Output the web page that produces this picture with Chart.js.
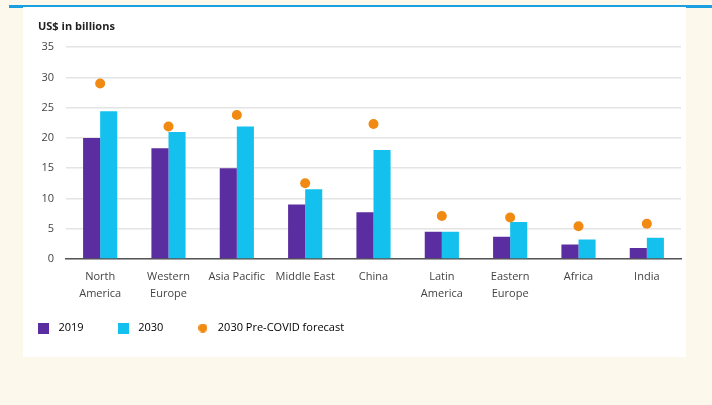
<!DOCTYPE html>
<html>
<head>
<meta charset="utf-8">
<script src="https://cdn.jsdelivr.net/npm/chart.js@4"></script>
<style>
    html, body { margin: 0; padding: 0; }
    body { width: 712px; height: 405px; background: #fdf8ec; position: relative; overflow: hidden; }
    .topline { position: absolute; left: 9px; right: 0; top: 5px; height: 3px; background: #1a9fe0; }
    .panel { position: absolute; left: 23px; top: 7px; width: 663px; height: 350px; background: #ffffff; }
    canvas { display: block; }
</style>
</head>
<body>
<div class="topline"></div>
<div class="panel"><canvas id="marketChart" width="663" height="360"></canvas></div>
<script>
const regions = [
    ['North', 'America'], ['Western', 'Europe'], 'Asia Pacific', 'Middle East', 'China',
    ['Latin', 'America'], ['Eastern', 'Europe'], 'Africa', 'India'
];
const values2019 = [20, 18.3, 15, 9, 7.7, 4.5, 3.65, 2.4, 1.8];
const values2030 = [24.4, 21, 21.9, 11.5, 18, 4.5, 6.1, 3.2, 3.5];
const preCovid2030 = [29, 21.9, 23.8, 12.5, 22.3, 7.1, 6.85, 5.4, 5.8];
const yTicks = [0, 5, 10, 15, 20, 25, 30, 35];

const purple = '#5a2ea0';
const cyan = '#14c1ee';
const orange = '#f08a12';

// small canvas used as the legend marker
function swatch(color, round) {
    const c = document.createElement('canvas');
    const size = round ? 9 : 11;
    c.width = size;
    c.height = size;
    const g = c.getContext('2d');
    g.fillStyle = color;
    if (round) {
        g.beginPath();
        g.arc(size / 2, size / 2, size / 2, 0, Math.PI * 2);
        g.fill();
    } else {
        g.fillRect(0, 0, size, size);
    }
    return c;
}

// line the legend row up with the title and pull it closer to the axis labels
const legendOffset = {
    id: 'legendOffset',
    afterLayout(chart) {
        chart.legend.left -= chart.options.plugins.legend.labels.padding + 4;
        chart.legend.top -= 18.5;
    }
};

document.addEventListener('DOMContentLoaded', function () {
    const ctx = document.getElementById('marketChart').getContext('2d');
    Chart.defaults.font.family = '"Open Sans", "Noto Sans", sans-serif';
    Chart.defaults.color = '#444';

    const data = {
        labels: regions,
        datasets: [{
            type: 'bar',
            label: '2019',
            data: values2019,
            backgroundColor: purple,
            categoryPercentage: 0.5,
            barPercentage: 1.0,
            order: 2
        }, {
            type: 'bar',
            label: '2030',
            data: values2030,
            backgroundColor: cyan,
            categoryPercentage: 0.5,
            barPercentage: 1.0,
            order: 2
        }, {
            type: 'line',
            label: '2030 Pre-COVID forecast',
            data: preCovid2030,
            showLine: false,
            pointRadius: 5,
            pointBackgroundColor: orange,
            pointBorderWidth: 0,
            borderColor: orange,
            order: 1
        }]
    };

    const markers = [swatch(purple, false), swatch(cyan, false), swatch(orange, true)];

    const config = {
        data: data,
        plugins: [legendOffset],
        options: {
            responsive: false,
            animation: false,
            layout: { padding: { top: 13, left: 15, right: 5, bottom: 5 } },
            plugins: {
                title: {
                    display: true,
                    text: 'US$ in billions',
                    align: 'start',
                    color: '#222',
                    font: { size: 11, weight: 'bold' },
                    padding: { top: 0, bottom: 14 }
                },
                legend: {
                    position: 'bottom',
                    align: 'start',
                    labels: {
                        usePointStyle: true,
                        pointStyleWidth: 19,
                        boxHeight: 11,
                        padding: 30,
                        font: { size: 11 },
                        color: '#333',
                        generateLabels: function (chart) {
                            return chart.data.datasets.map((ds, i) => ({
                                text: ds.label,
                                fillStyle: 'transparent',
                                strokeStyle: 'transparent',
                                lineWidth: 0,
                                pointStyle: markers[i],
                                datasetIndex: i
                            }));
                        }
                    }
                },
                tooltip: { enabled: false }
            },
            scales: {
                x: {
                    grid: { display: false, drawTicks: false },
                    border: { display: true, color: '#555', width: 1.5 },
                    ticks: { font: { size: 11, lineHeight: 1.55 }, color: '#444', maxRotation: 0, padding: 9 }
                },
                y: {
                    min: 0,
                    max: 35,
                    afterBuildTicks: function (axis) {
                        axis.ticks = yTicks.map(v => ({ value: v }));
                    },
                    afterFit: function (axis) {
                        axis.width = 28;
                    },
                    grid: { color: '#e4e4e4', lineWidth: 1.5, drawTicks: false },
                    border: { display: false },
                    ticks: { font: { size: 11 }, color: '#444', padding: 12 }
                }
            }
        }
    };

    new Chart(ctx, config);
});
</script>
</body>
</html>
